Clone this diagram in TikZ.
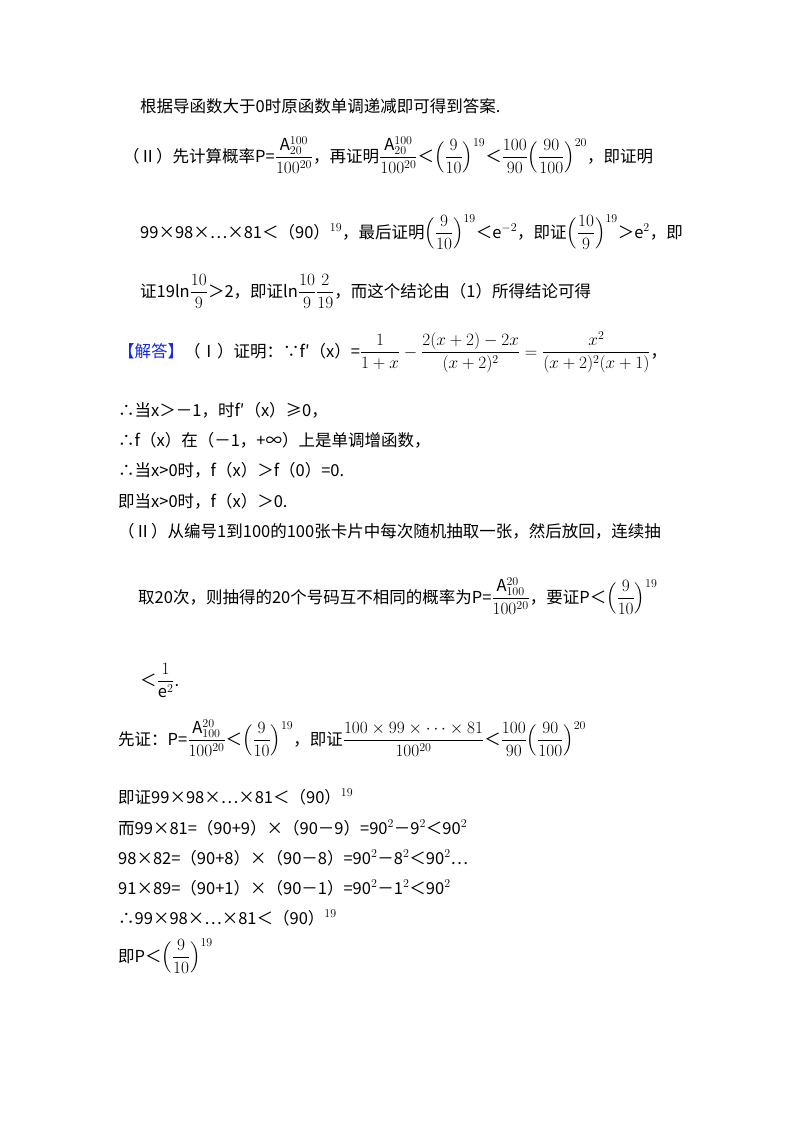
\documentclass[tikz,border=0pt]{standalone}
\usepackage{amsmath}
\usepackage{fontspec}
\setmainfont{Noto Sans CJK SC}
\definecolor{ansblue}{RGB}{20,40,230}
\begin{document}
\begin{tikzpicture}[x=1pt,y=-1pt,
  ln/.style={anchor=base west,inner sep=0pt,font=\fontsize{16.5}{19}\selectfont}]
\useasboundingbox[fill=white] (0,0) rectangle (800,1132);
\newcommand{\Arr}[2]{\mathrm{A}_{#1}^{#2}}
\newcommand{\Afr}[2]{\dfrac{\raisebox{0pt}[1.1em]{$\Arr{#1}{#2}$}}{100^{20}}}
\node[ln] (l1) at (140,112) {根据导函数大于0时原函数单调递减即可得到答案.};
\node[ln] (l2) at (123,162) {（Ⅱ）先计算概率P=$\Afr{20}{100}$，再证明$\Afr{20}{100}$＜$\Big(\dfrac{9}{10}\Big)^{19}$＜$\dfrac{100}{90}\Big(\dfrac{90}{100}\Big)^{20}$，即证明};
\node[ln] (l3) at (140,238) {99×98×…×81＜（90）$^{19}$，最后证明$\Big(\dfrac{9}{10}\Big)^{19}$＜e$^{-2}$，即证$\Big(\dfrac{10}{9}\Big)^{19}$＞e$^2$，即};
\node[ln] (l4) at (140,297) {证19ln$\dfrac{10}{9}$＞2，即证ln$\dfrac{10}{9}\dfrac{2}{19}$，而这个结论由（1）所得结论可得};
\node[ln] (l5) at (118,357) {\textcolor{ansblue}{【解答】}（Ⅰ）证明：∵f′（x）=$\dfrac{1}{1+x}-\dfrac{2(x+2)-2x}{(x+2)^2}=\dfrac{x^2}{(x+2)^2(x+1)}$，};
\node[ln] (l6) at (118,416) {∴当x＞－1，时f′（x）≥0，};
\node[ln] (l7) at (118,446) {∴f（x）在（－1，+∞）上是单调增函数，};
\node[ln] (l8) at (118,476) {∴当x>0时，f（x）＞f（0）=0.};
\node[ln] (l9) at (118,507) {即当x>0时，f（x）＞0.};
\node[ln] (l10) at (118,537) {（Ⅱ）从编号1到100的100张卡片中每次随机抽取一张，然后放回，连续抽};
\node[ln] (l11) at (138,603) {取20次，则抽得的20个号码互不相同的概率为P=$\Afr{100}{20}$，要证P＜$\Big(\dfrac{9}{10}\Big)^{19}$};
\node[ln] (l12) at (140,686) {＜$\dfrac{1}{\mathrm{e}^2}$.};
\node[ln] (l13) at (118,745) {先证：P=$\Afr{100}{20}$＜$\Big(\dfrac{9}{10}\Big)^{19}$，即证$\dfrac{100\times99\times\cdots\times81}{100^{20}}$＜$\dfrac{100}{90}\Big(\dfrac{90}{100}\Big)^{20}$};
\node[ln] (l14) at (118,803) {即证99×98×…×81＜（90）$^{19}$};
\node[ln] (l15) at (118,834) {而99×81=（90+9）×（90－9）=90$^2$－9$^2$＜90$^2$};
\node[ln] (l16) at (118,864) {98×82=（90+8）×（90－8）=90$^2$－8$^2$＜90$^2$…};
\node[ln] (l17) at (118,894) {91×89=（90+1）×（90－1）=90$^2$－1$^2$＜90$^2$};
\node[ln] (l18) at (118,924) {∴99×98×…×81＜（90）$^{19}$};
\node[ln] (l19) at (118,962) {即P＜$\Big(\dfrac{9}{10}\Big)^{19}$};
\end{tikzpicture}
\end{document}
